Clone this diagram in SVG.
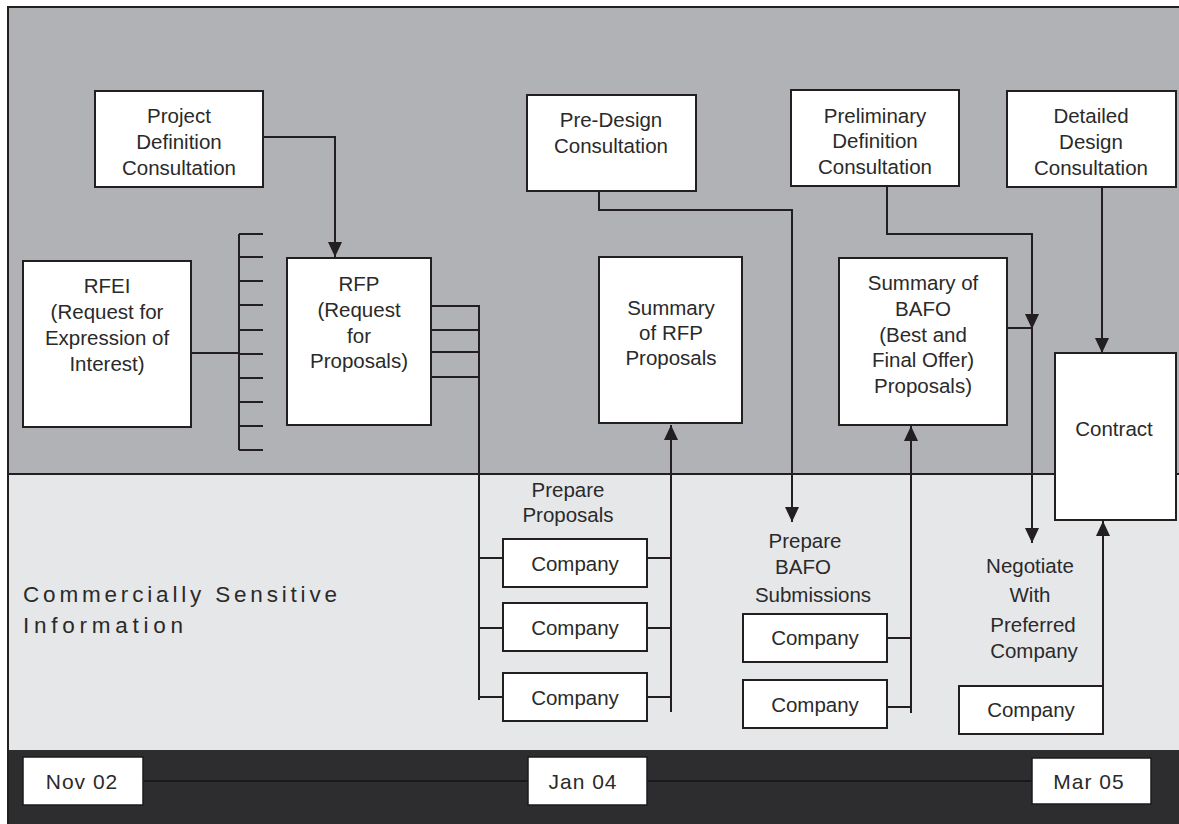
<svg xmlns="http://www.w3.org/2000/svg" width="1179" height="824" viewBox="0 0 1179 824">
  <defs>
    <marker id="arrow" viewBox="0 0 15 14" refX="15" refY="7" markerWidth="15" markerHeight="14" markerUnits="userSpaceOnUse" orient="auto">
      <path d="M0,0 L15,7 L0,14 z" fill="#231f20"/>
    </marker>
    <style>
      .box { fill: #ffffff; stroke: #231f20; stroke-width: 2; }
      .lbl { font-family: "Liberation Sans", Arial, sans-serif; font-size: 20.5px; fill: #2a2a2a; text-anchor: middle; }
      .date { font-family: "Liberation Sans", Arial, sans-serif; font-size: 21px; fill: #2a2a2a; text-anchor: middle; letter-spacing: 1px; }
      .wire { fill: none; stroke: #231f20; stroke-width: 2; }
      .arr { marker-end: url(#arrow); }
      .band-note { font-family: "Liberation Sans", Arial, sans-serif; font-size: 22.5px; fill: #2a2a2a; }
    </style>
  </defs>

  <!-- background bands -->
  <rect x="0" y="0" width="1179" height="824" fill="#ffffff"/>
  <rect x="8" y="7" width="1171" height="467" fill="#b1b2b6"/>
  <rect x="8" y="474" width="1171" height="276" fill="#e6e7e9"/>
  <rect x="8" y="750" width="1171" height="74" fill="#2d2c2e"/>
  <line x1="8" y1="474" x2="1179" y2="474" stroke="#231f20" stroke-width="2"/>
  <line x1="7" y1="7" x2="1179" y2="7" stroke="#231f20" stroke-width="2"/>
  <line x1="8" y1="6" x2="8" y2="824" stroke="#231f20" stroke-width="2"/>

  <text class="band-note" x="23" y="602" textLength="314" lengthAdjust="spacing">Commercially Sensitive</text>
  <text class="band-note" x="23" y="633" textLength="160" lengthAdjust="spacing">Information</text>

  <!-- timeline -->
  <g id="timeline">
    <line x1="143" y1="781" x2="1032" y2="781" stroke="#19181a" stroke-width="2"/>
    <g id="date-nov02">
      <rect x="23" y="757" width="120" height="48" fill="#ffffff" stroke="#1c1b1c" stroke-width="1.5"/>
      <text class="date" x="82" y="789">Nov 02</text>
    </g>
    <g id="date-jan04">
      <rect x="528" y="757" width="119" height="48" fill="#ffffff" stroke="#1c1b1c" stroke-width="1.5"/>
      <text class="date" x="583" y="789">Jan 04</text>
    </g>
    <g id="date-mar05">
      <rect x="1032" y="758" width="119" height="46" fill="#ffffff" stroke="#1c1b1c" stroke-width="1.5"/>
      <text class="date" x="1089" y="789">Mar 05</text>
    </g>
  </g>

  <!-- connectors -->
  <g id="connectors">
    <path class="wire arr" d="M263,137 H335 V257"/>
    <path class="wire" d="M191,353 H239"/>
    <path class="wire" d="M239,234 V450 M239,234 H263 M239,257 H263 M239,281 H263 M239,305 H263 M239,330 H263 M239,354 H263 M239,378 H263 M239,402 H263 M239,426 H263 M239,450 H263"/>
    <path class="wire" d="M431,306 H479 M431,330 H479 M431,352 H479 M431,377 H479 M479,305 V700"/>
    <path class="wire" d="M479,558 H503 M479,628 H503 M479,697 H503"/>
    <path class="wire" d="M647,558 H671 M647,628 H671 M647,697 H671"/>
    <path class="wire arr" d="M671,712 V425"/>
    <path class="wire arr" d="M599,191 V210 H792 V522"/>
    <path class="wire arr" d="M887,186 V234 H1032 V329"/>
    <path class="wire arr" d="M1032,329 V543"/>
    <path class="wire" d="M1007,328 H1032"/>
    <path class="wire" d="M887,638 H911 M887,707 H911"/>
    <path class="wire arr" d="M911,713 V426"/>
    <path class="wire arr" d="M1102,187 V353"/>
    <path class="wire arr" d="M1103,687 V521"/>
  </g>

  <!-- nodes -->
  <g id="project-definition">
    <rect class="box" x="95" y="91" width="168" height="96"/>
    <text class="lbl" x="179" y="123">Project</text>
    <text class="lbl" x="179" y="149">Definition</text>
    <text class="lbl" x="179" y="175">Consultation</text>
  </g>

  <g id="rfei">
    <rect class="box" x="23" y="261" width="168" height="166"/>
    <text class="lbl" x="107" y="293">RFEI</text>
    <text class="lbl" x="107" y="319">(Request for</text>
    <text class="lbl" x="107" y="345">Expression of</text>
    <text class="lbl" x="107" y="371">Interest)</text>
  </g>

  <g id="rfp">
    <rect class="box" x="287" y="258" width="144" height="167"/>
    <text class="lbl" x="359" y="291">RFP</text>
    <text class="lbl" x="359" y="317">(Request</text>
    <text class="lbl" x="359" y="343">for</text>
    <text class="lbl" x="359" y="368">Proposals)</text>
  </g>

  <g id="pre-design">
    <rect class="box" x="527" y="95" width="169" height="96"/>
    <text class="lbl" x="611" y="127">Pre-Design</text>
    <text class="lbl" x="611" y="153">Consultation</text>
  </g>

  <g id="summary-rfp">
    <rect class="box" x="599" y="257" width="143" height="166"/>
    <text class="lbl" x="671" y="315">Summary</text>
    <text class="lbl" x="671" y="340">of RFP</text>
    <text class="lbl" x="671" y="365">Proposals</text>
  </g>

  <g id="preliminary-definition">
    <rect class="box" x="791" y="90" width="168" height="96"/>
    <text class="lbl" x="875" y="123">Preliminary</text>
    <text class="lbl" x="875" y="148">Definition</text>
    <text class="lbl" x="875" y="174">Consultation</text>
  </g>

  <g id="detailed-design">
    <rect class="box" x="1007" y="91" width="169" height="96"/>
    <text class="lbl" x="1091" y="123">Detailed</text>
    <text class="lbl" x="1091" y="149">Design</text>
    <text class="lbl" x="1091" y="175">Consultation</text>
  </g>

  <g id="summary-bafo">
    <rect class="box" x="839" y="258" width="168" height="167"/>
    <text class="lbl" x="923" y="290">Summary of</text>
    <text class="lbl" x="923" y="316">BAFO</text>
    <text class="lbl" x="923" y="342">(Best and</text>
    <text class="lbl" x="923" y="367">Final Offer)</text>
    <text class="lbl" x="923" y="393">Proposals)</text>
  </g>

  <g id="contract">
    <rect class="box" x="1055" y="353" width="121" height="167"/>
    <text class="lbl" x="1114" y="436">Contract</text>
  </g>

  <g id="prepare-proposals">
    <text class="lbl" x="568" y="497">Prepare</text>
    <text class="lbl" x="568" y="522">Proposals</text>
  </g>
  <g id="company-p1">
    <rect class="box" x="503" y="539" width="144" height="48"/>
    <text class="lbl" x="575" y="571">Company</text>
  </g>
  <g id="company-p2">
    <rect class="box" x="503" y="603" width="144" height="48"/>
    <text class="lbl" x="575" y="635">Company</text>
  </g>
  <g id="company-p3">
    <rect class="box" x="503" y="673" width="144" height="48"/>
    <text class="lbl" x="575" y="705">Company</text>
  </g>

  <g id="prepare-bafo">
    <text class="lbl" x="805" y="548">Prepare</text>
    <text class="lbl" x="803" y="574">BAFO</text>
    <text class="lbl" x="813" y="602">Submissions</text>
  </g>
  <g id="company-b1">
    <rect class="box" x="743" y="614" width="144" height="48"/>
    <text class="lbl" x="815" y="645">Company</text>
  </g>
  <g id="company-b2">
    <rect class="box" x="743" y="680" width="144" height="48"/>
    <text class="lbl" x="815" y="712">Company</text>
  </g>

  <g id="negotiate">
    <text class="lbl" x="1030" y="573">Negotiate</text>
    <text class="lbl" x="1030" y="602">With</text>
    <text class="lbl" x="1033" y="632">Preferred</text>
    <text class="lbl" x="1034" y="658">Company</text>
  </g>
  <g id="company-preferred">
    <rect class="box" x="959" y="686" width="144" height="48"/>
    <text class="lbl" x="1031" y="717">Company</text>
  </g>
</svg>
